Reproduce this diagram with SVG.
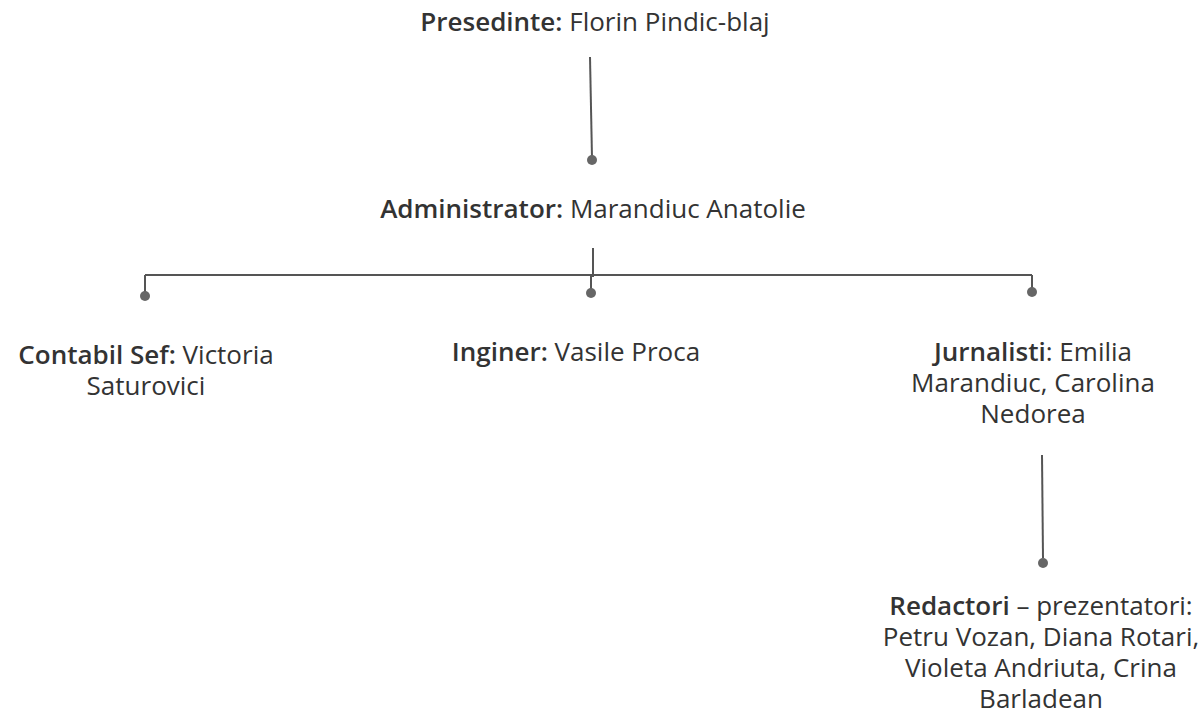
<svg xmlns="http://www.w3.org/2000/svg" width="1204" height="722" viewBox="0 0 1204 722">
<style>
text{font-family:"Open Sans","Noto Sans",sans-serif;font-size:26px;fill:#333;text-anchor:middle}
.b{font-weight:600}
.ln{stroke:#555;stroke-width:2;fill:none}
.dot{fill:#666}
</style>
<rect width="1204" height="722" fill="#fff"/>
<g id="connectors">
<line class="ln" x1="590" y1="57" x2="592" y2="158"/>
<circle class="dot" cx="592" cy="160" r="5"/>
<line class="ln" x1="593" y1="248" x2="593" y2="277"/>
<line class="ln" x1="145" y1="275" x2="1032" y2="275"/>
<line class="ln" x1="145" y1="275" x2="145" y2="294"/>
<line class="ln" x1="591" y1="275" x2="591" y2="291"/>
<line class="ln" x1="1032" y1="275" x2="1032" y2="290"/>
<circle class="dot" cx="145" cy="296" r="5"/>
<circle class="dot" cx="591" cy="293" r="5"/>
<circle class="dot" cx="1032" cy="292" r="5"/>
<line class="ln" x1="1042" y1="455" x2="1043" y2="558"/>
<circle class="dot" cx="1043" cy="563" r="5"/>
</g>
<g id="presedinte"><text x="595" y="31"><tspan class="b">Presedinte:</tspan> Florin Pindic-blaj</text></g>
<g id="administrator"><text x="593" y="218"><tspan class="b">Administrator:</tspan> Marandiuc Anatolie</text></g>
<g id="contabil"><text x="146" y="364"><tspan class="b">Contabil Sef:</tspan> Victoria<tspan x="146" y="395">Saturovici</tspan></text></g>
<g id="inginer"><text x="576" y="361"><tspan class="b">Inginer:</tspan> Vasile Proca</text></g>
<g id="jurnalisti"><text x="1033" y="361"><tspan class="b">Jurnalisti</tspan>: Emilia<tspan x="1033" y="392">Marandiuc, Carolina</tspan><tspan x="1033" y="423">Nedorea</tspan></text></g>
<g id="redactori"><text x="1041" y="615"><tspan class="b">Redactori</tspan> – prezentatori:<tspan x="1041" y="646">Petru Vozan, Diana Rotari,</tspan><tspan x="1041" y="677">Violeta Andriuta, Crina</tspan><tspan x="1041" y="708">Barladean</tspan></text></g>
</svg>
